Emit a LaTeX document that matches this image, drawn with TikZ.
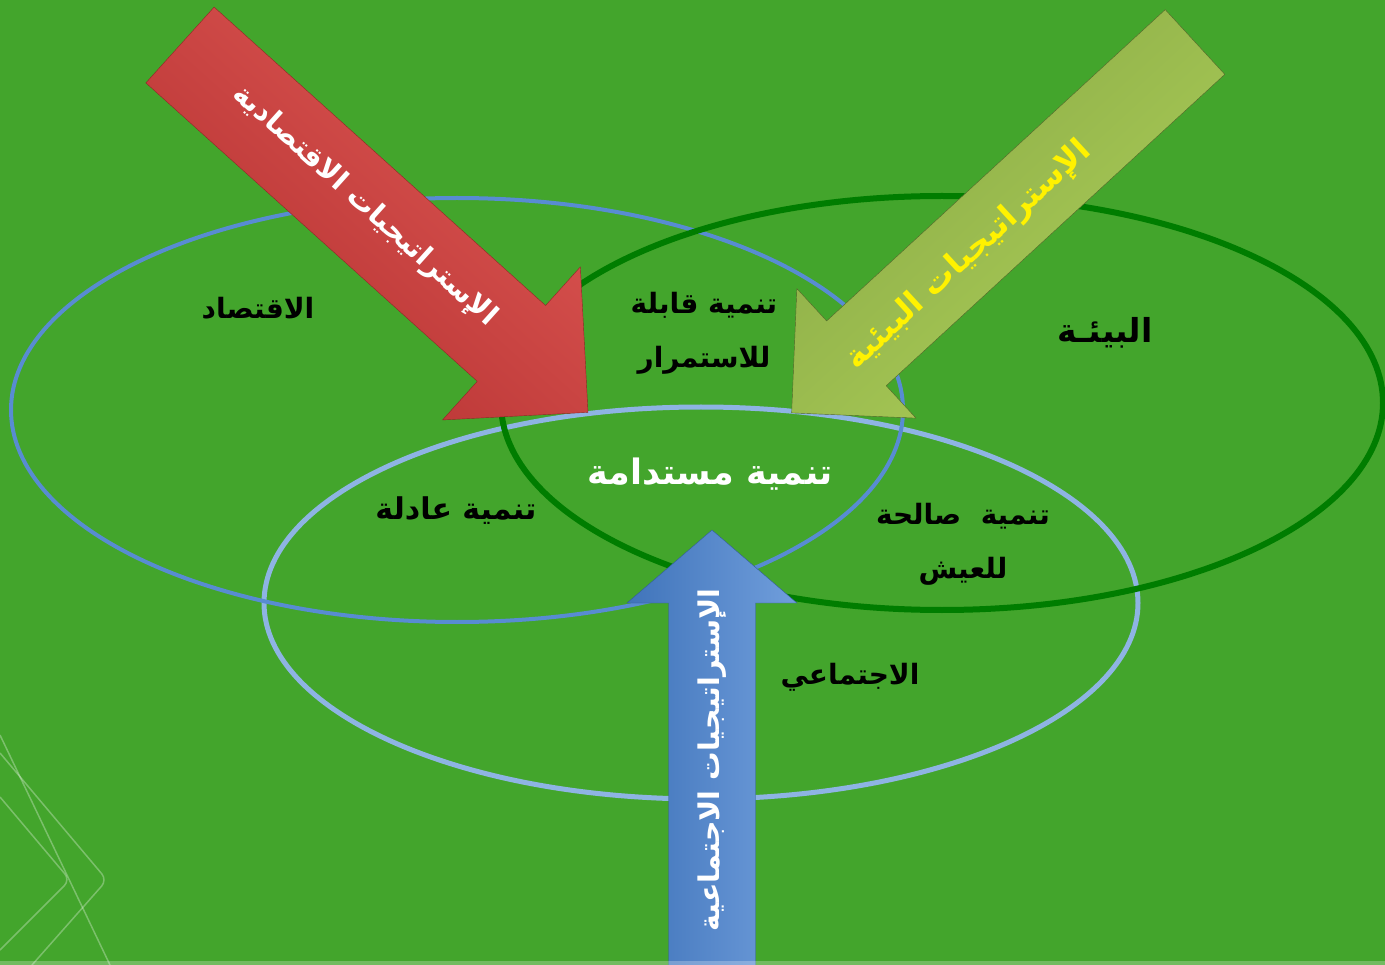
\documentclass[tikz,border=0pt]{standalone}
\usepackage{fontspec}
\newfontfamily\arabicfont[Script=Arabic]{DejaVu Sans}
\TeXXeTstate=1
\definecolor{bggreen}{RGB}{67,165,44}
\definecolor{econblue}{RGB}{88,140,210}
\definecolor{envgreen}{RGB}{0,125,0}
\definecolor{socblue}{RGB}{142,180,227}
\definecolor{redlight}{RGB}{222,88,84}
\definecolor{reddark}{RGB}{180,48,48}
\definecolor{olivelight}{RGB}{172,206,88}
\definecolor{olivedark}{RGB}{138,170,70}
\definecolor{bluelight}{RGB}{112,158,220}
\definecolor{bluedark}{RGB}{64,116,186}
\tikzset{
  ring/.style={line width=4pt},
  lbl/.style={font=\arabicfont\bfseries\fontsize{28}{54}\selectfont, align=center, text=black},
  biglbl/.style={font=\arabicfont\bfseries\fontsize{35}{40}\selectfont, text=white},
  arrowtxt/.style={font=\arabicfont\bfseries\fontsize{28.5}{32}\selectfont},
}

\begin{document}
\begin{tikzpicture}[x=1pt, y=-1pt, line join=round]
\clip (0,0) rectangle (1385,965);
\fill[bggreen] (0,0) rectangle (1385,965);

% corner lines
\draw[white, opacity=.3, line width=1.5pt] (0,735) -- (110,965);
\draw[white, opacity=.3, line width=1.5pt, rounded corners=8pt] (0,753) -- (107,880) -- (32,965);
\draw[white, opacity=.3, line width=1.5pt, rounded corners=8pt] (0,797) -- (70,880) -- (0,950);

% the three circles
\draw[ring, socblue, line width=5pt] (701,603) ellipse [x radius=437, y radius=196];
\draw[ring, econblue] (457,410) ellipse [x radius=446, y radius=212];
\draw[ring, envgreen, line width=6pt] (942,403) ellipse [x radius=441, y radius=207];

\node[lbl] (econ) at (258,308) {\beginR الاقتصاد\endR};
\node[lbl, font=\arabicfont\bfseries\fontsize{33}{38}\selectfont] (envi) at (1105,333) {\beginR البيئـة\endR};
\node[lbl] (soc) at (850,677) {\beginR الاجتماعي\endR};
\node[lbl] (viable) at (704,333) {\beginR تنمية قابلة\endR\\\beginR للاستمرار\endR};
\node[lbl, font=\arabicfont\bfseries\fontsize{30}{54}\selectfont] (fair) at (456,511) {\beginR تنمية عادلة\endR};
\node[lbl] (livable) at (963,544) {\beginR تنمية\ \ صالحة\endR\\\beginR للعيش\endR};
\node[biglbl] (core) at (710,474) {\beginR تنمية مستدامة\endR};

% economic strategies
\begin{scope}[shift={(180,45)}, rotate=-42]
  \shade[top color=redlight, bottom color=reddark, shading angle=-42, draw=reddark!80!black]
    (0,51) -- (446,51) -- (446,103) -- (549,0) -- (446,-103) -- (446,-51) -- (0,-51) -- cycle;
  \node[arrowtxt, white, rotate=-42] (ecostr) at (245,-4) {\beginR الإستراتيجيات الاقتصادية\endR};
\end{scope}

% environmental strategies
\begin{scope}[shift={(1195,42)}, rotate=-137.4]
  \shade[top color=olivedark, bottom color=olivelight, shading angle=42.6, draw=olivedark!60!black]
    (0,44) -- (460,44) -- (460,88) -- (548,0) -- (460,-88) -- (460,-44) -- (0,-44) -- cycle;
  \node[arrowtxt, yellow, font=\arabicfont\bfseries\fontsize{32}{36}\selectfont, rotate=42.6] (envstr) at (311,-4) {\beginR الإستراتيجيات البيئية\endR};
\end{scope}

% social strategies
\begin{scope}[shift={(712,975)}, rotate=90]
  \shade[left color=bluedark, right color=bluelight, shading angle=90, draw=bluedark!80!black]
    (0,43.5) -- (372,43.5) -- (372,85) -- (445,0) -- (372,-85) -- (372,-43.5) -- (0,-43.5) -- cycle;
  \node[arrowtxt, white, rotate=90] (socstr) at (215,0) {\beginR الإستراتيجيات الاجتماعية\endR};
\end{scope}

\fill[white, opacity=.25] (0,961) rectangle (1385,965);
\end{tikzpicture}
\end{document}
